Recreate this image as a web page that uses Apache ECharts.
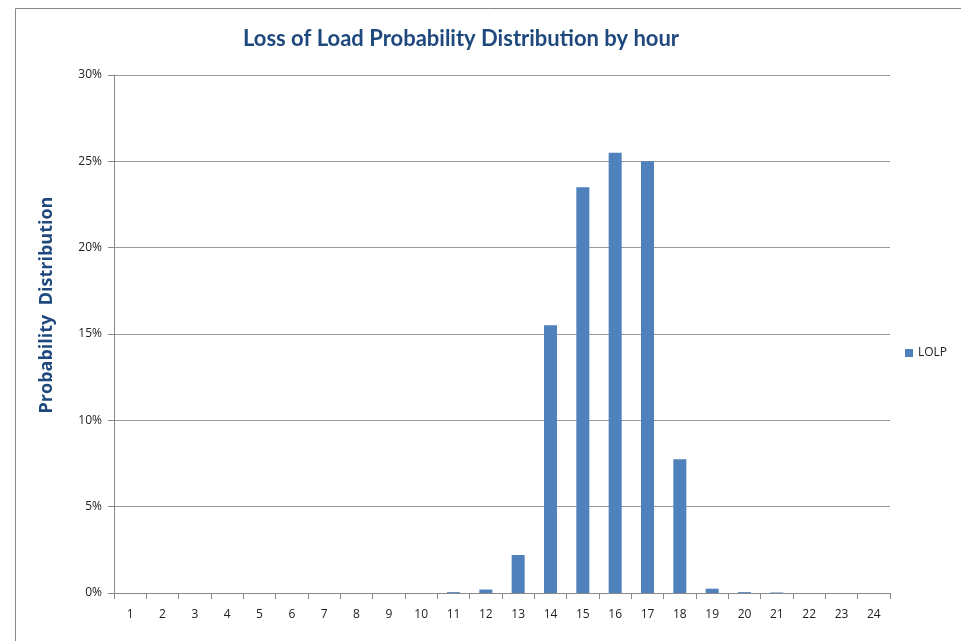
<!DOCTYPE html>
<html>
<head>
<meta charset="utf-8">
<script src="https://cdn.jsdelivr.net/npm/echarts@6/dist/echarts.min.js"></script>
<style>
  html, body { margin: 0; padding: 0; background: #fff; }
  #chart { width: 961px; height: 641px; }
</style>
</head>
<body>
<div id="chart"></div>
<script>
// hours 1..24
var hours = ['1', '2', '3', '4', '5', '6', '7', '8', '9', '10', '11', '12',
  '13', '14', '15', '16', '17', '18', '19', '20', '21', '22', '23', '24']
// LOLP share per hour, in percent
var lolp = [0, 0, 0, 0, 0, 0, 0, 0, 0, 0, 0.05, 0.2,
  2.2, 15.5, 23.5, 25.5, 25.0, 7.75, 0.25, 0.05, 0.03, 0, 0, 0]

var chart = echarts.init(document.getElementById('chart'))
chart.setOption({
  animation: false,
  title: {
    text: 'Loss of Load Probability Distribution by hour',
    left: 456,
    top: 23,
    textAlign: 'center',
    textStyle: {
      fontFamily: 'Lato',
      fontWeight: 'bold',
      fontSize: 22,
      color: '#1F497D'
    }
  },
  legend: {
    data: ['LOLP'],
    left: 900,
    top: 342,
    itemWidth: 8,
    itemHeight: 8,
    itemGap: 4,
    icon: 'rect',
    textStyle: { fontFamily: 'Open Sans', fontSize: 12, color: '#222' }
  },
  graphic: [{
    type: 'rect',
    shape: { x: 15.5, y: 8.5, width: 960, height: 700 },
    style: { fill: 'none', stroke: '#888', lineWidth: 1 },
    silent: true
  }, {
    // axis title, sits higher than the plot centre as in the original
    type: 'text',
    x: 47,
    y: 305,
    rotation: Math.PI / 2,
    style: {
      text: 'Probability  Distribution',
      fontFamily: 'Open Sans',
      fontWeight: 'bold',
      fontSize: 18,
      fill: '#1F497D',
      align: 'center',
      verticalAlign: 'middle'
    },
    silent: true
  }],
  grid: {
    left: 114,
    top: 75,
    width: 776,
    height: 518
  },
  xAxis: {
    type: 'category',
    data: hours,
    axisLine: { lineStyle: { color: '#888' } },
    axisTick: { show: true, length: 6, lineStyle: { color: '#888' } },
    axisLabel: { fontFamily: 'Open Sans', fontSize: 12, color: '#222', margin: 16 }
  },
  yAxis: {
    type: 'value',
    min: 0,
    max: 30,
    interval: 5,
    axisLine: { show: true, lineStyle: { color: '#888' } },
    axisTick: { show: true, length: 6, lineStyle: { color: '#888' } },
    axisLabel: {
      fontFamily: 'Open Sans',
      fontSize: 12,
      color: '#222',
      margin: 12,
      formatter: '{value}%'
    },
    splitLine: { lineStyle: { color: '#999', width: 1 } }
  },
  series: [{
    name: 'LOLP',
    type: 'bar',
    data: lolp,
    barWidth: 13,
    itemStyle: { color: '#4F81BD' }
  }]
})
</script>
</body>
</html>
